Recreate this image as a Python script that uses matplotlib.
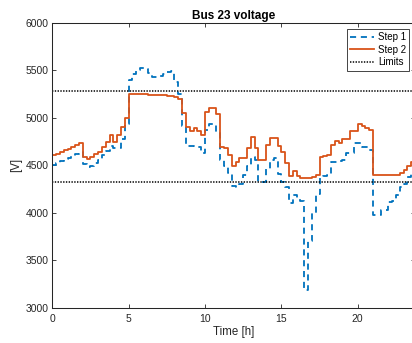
import numpy as np
import matplotlib
matplotlib.use("Agg")
import matplotlib.pyplot as plt

# ---- data (0.25 h resolution) ----
step1 = [4505, 4520, 4545, 4565, 4580, 4600, 4620, 4645,
         4510, 4485, 4490, 4520, 4555, 4610, 4650, 4700,
         4680, 4680, 4780, 4940, 5400, 5460, 5500, 5520,
         5510, 5470, 5430, 5430, 5440, 5465, 5480, 5490,
         5380, 5250, 4910, 4700, 4705, 4690, 4690, 4625,
         4870, 4935, 4935, 4840, 4560, 4490, 4420, 4280,
         4270, 4300, 4400, 4490, 4590, 4560, 4320, 4330,
         4460, 4560, 4580, 4410, 4320, 4270, 4100, 4190,
         4150, 4120, 3190, 3700, 4000, 4200, 4380, 4390,
         4400, 4540, 4540, 4550, 4560, 4625, 4625, 4730,
         4730, 4695, 4690, 4660, 3980, 3980, 4030, 4035,
         4110, 4130, 4190, 4270, 4300, 4380, 4430, 4450]

step2 = [4610, 4620, 4640, 4660, 4675, 4690, 4710, 4730,
         4585, 4565, 4590, 4620, 4645, 4695, 4750, 4820,
         4750, 4820, 4905, 5000, 5255, 5255, 5252, 5250,
         5248, 5245, 5242, 5240, 5238, 5235, 5230, 5225,
         5215, 5200, 5055, 4900, 4860, 4890, 4860, 4815,
         5065, 5100, 5105, 5035, 4695, 4680, 4610, 4490,
         4540, 4575, 4575, 4680, 4795, 4680, 4555, 4555,
         4715, 4785, 4785, 4700, 4645, 4520, 4385, 4440,
         4385, 4370, 4370, 4370, 4375, 4400, 4590, 4600,
         4610, 4715, 4755, 4740, 4775, 4775, 4860, 4860,
         4940, 4915, 4895, 4870, 4400, 4400, 4400, 4400,
         4400, 4400, 4400, 4420, 4450, 4490, 4535, 4570]

time_h = np.arange(len(step1)) * 0.25
limits = [4320, 5280]
series_labels = ["Step 1", "Step 2", "Limits"]
xticks = [0, 5, 10, 15, 20]
yticks = [3000, 3500, 4000, 4500, 5000, 5500, 6000]

plt.rcParams['font.family'] = ['Liberation Sans', 'DejaVu Sans']
plt.rcParams['lines.scale_dashes'] = False

W, H = 412, 343
fig = plt.figure(figsize=(W / 100, H / 100), dpi=100)
x0, x1 = 52.3, 415.0
y_top, y_bot = 22.7, 308.0
ax = fig.add_axes([x0 / W, (H - y_bot) / H, (x1 - x0) / W, (y_bot - y_top) / H])

blue = "#0072BD"
orange = "#D95319"
axcol = "#262626"

ax.step(time_h, step1, where="post", color=blue, lw=1.3,
        linestyle=(0, (4.4, 3.4)), label=series_labels[0])
ax.step(time_h, step2, where="post", color=orange, lw=1.3,
        label=series_labels[1])
for i, lim in enumerate(limits):
    ax.axhline(lim, color="black", lw=1.1, linestyle=(0, (1.0, 1.0)),
               label=series_labels[2] if i == 0 else "_nolegend_")

ax.set_xlim(0, 23.75)
ax.set_ylim(3000, 6000)
ax.set_xticks(xticks)
ax.set_yticks(yticks)
ax.tick_params(direction="in", length=2.6, width=0.6, colors=axcol,
               labelsize=7.5, top=True, right=True)
ax.tick_params(axis="x", pad=4)
ax.tick_params(axis="y", pad=2.5)
for s in ax.spines.values():
    s.set_color(axcol)
    s.set_linewidth(0.75)

ax.set_title("Bus 23 voltage", fontsize=8.5, fontweight="bold", pad=2.5, color="black")
ax.set_xlabel("Time [h]", fontsize=8.3, labelpad=2, color=axcol)
ax.set_ylabel("[V]", fontsize=8.3, labelpad=3, color=axcol)

leg = ax.legend(loc="upper right", bbox_to_anchor=(409.3 / W, 1 - 29 / H),
                bbox_transform=fig.transFigure, borderaxespad=0,
                fontsize=7, handlelength=2.45, handletextpad=0.4,
                borderpad=0.35, labelspacing=0.25, fancybox=False,
                framealpha=1, edgecolor=axcol)
leg.get_frame().set_linewidth(0.6)

fig.savefig("out.png", dpi=100)
